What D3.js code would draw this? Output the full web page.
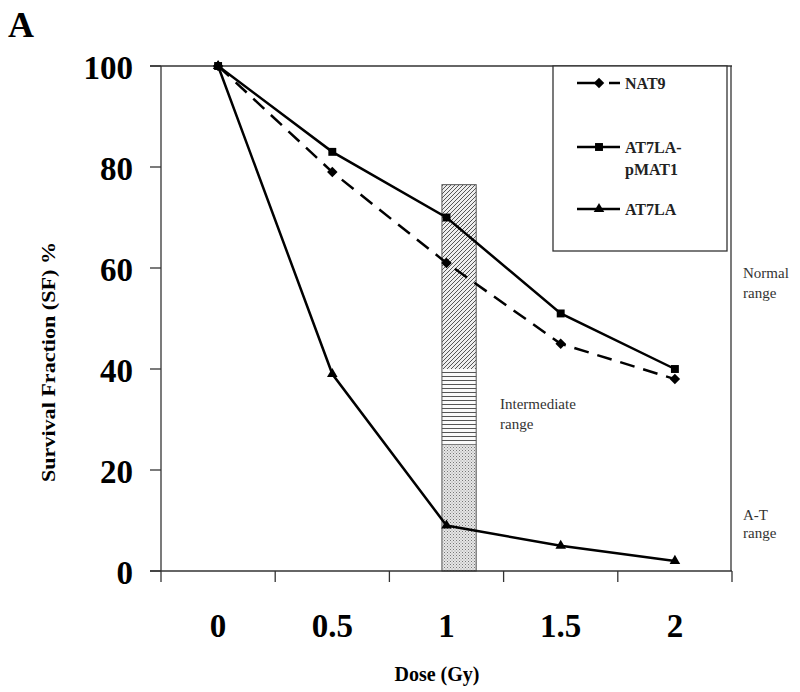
<!DOCTYPE html>
<html><head><meta charset="utf-8">
<script src="https://cdn.jsdelivr.net/npm/d3@7"></script>
<style>body{margin:0;background:#fff}svg{display:block}</style>
</head><body>
<svg id="c" width="800" height="692"></svg>
<script>
const doses = [0, 0.5, 1, 1.5, 2];
const doseLabels = ["0", "0.5", "1", "1.5", "2"];
const nat9 = [100, 79, 61, 45, 38];
const at7laPmat1 = [100, 83, 70, 51, 40];
const at7la = [100, 39, 9, 5, 2];
const yTicks = [0, 20, 40, 60, 80, 100];
const seriesNames = ["NAT9", "AT7LA-pMAT1", "AT7LA"];
// range bar at dose ~1: [lower, upper] percent and pattern
const rangeBarDose = [0.98, 1.13];
const rangeSegments = [[0, 25, "dots"], [25, 40, "hlines"], [40, 76.5, "diag"]];

const svg = d3.select("#c");
const font = "Liberation Serif";
const x = d3.scaleLinear().domain([-0.25, 2.25]).range([161, 732]);
const y = d3.scaleLinear().domain([0, 100]).range([571, 66]);

// patterns
const defs = svg.append("defs");
const pd = defs.append("pattern").attr("id","diag").attr("patternUnits","userSpaceOnUse").attr("width",4).attr("height",4);
pd.append("rect").attr("width",4).attr("height",4).attr("fill","#eeeeee");
pd.append("path").attr("d","M-1,1 l2,-2 M0,4 l4,-4 M3,5 l2,-2").attr("stroke","#555").attr("stroke-width",1);
const ph = defs.append("pattern").attr("id","hlines").attr("patternUnits","userSpaceOnUse").attr("width",4).attr("height",4);
ph.append("rect").attr("width",4).attr("height",4).attr("fill","#fafafa");
ph.append("path").attr("d","M0,0.5 H4").attr("stroke","#555").attr("stroke-width",1);
const pdots = defs.append("pattern").attr("id","dots").attr("patternUnits","userSpaceOnUse").attr("width",3).attr("height",3);
pdots.append("rect").attr("width",3).attr("height",3).attr("fill","#e6e6e6");
pdots.append("rect").attr("x",0).attr("y",0).attr("width",1).attr("height",1).attr("fill","#777");
pdots.append("rect").attr("x",1.5).attr("y",1.5).attr("width",1).attr("height",1).attr("fill","#999");

// "A"
svg.append("text").attr("x",8).attr("y",37).attr("font-family",font).attr("font-weight","bold").attr("font-size",36).text("A");

// range bar
svg.append("g").selectAll("rect").data(rangeSegments).join("rect")
  .attr("x", x(rangeBarDose[0])).attr("width", x(rangeBarDose[1]) - x(rangeBarDose[0]))
  .attr("y", d => y(d[1])).attr("height", d => y(d[0]) - y(d[1]))
  .attr("fill", d => `url(#${d[2]})`);
svg.append("rect").attr("x", x(rangeBarDose[0])).attr("width", x(rangeBarDose[1]) - x(rangeBarDose[0]))
  .attr("y", y(76.5)).attr("height", y(0) - y(76.5)).attr("fill","none").attr("stroke","#555").attr("stroke-width",1);

// axes frame
const axisColor = "#333";
svg.append("line").attr("x1",161).attr("x2",161).attr("y1",y(100)).attr("y2",y(0)).attr("stroke",axisColor).attr("stroke-width",1.3);
svg.append("line").attr("x1",150).attr("x2",732).attr("y1",y(0)).attr("y2",y(0)).attr("stroke",axisColor).attr("stroke-width",1.3);
svg.append("line").attr("x1",150).attr("x2",732).attr("y1",y(100)).attr("y2",y(100)).attr("stroke",axisColor).attr("stroke-width",1.3);
svg.append("line").attr("x1",731).attr("x2",731).attr("y1",y(100)).attr("y2",y(0)).attr("stroke",axisColor).attr("stroke-width",1.3);

// y ticks
const yg = svg.append("g");
yg.selectAll("line").data(yTicks).join("line").attr("x1",150).attr("x2",161).attr("y1",d=>y(d)).attr("y2",d=>y(d)).attr("stroke",axisColor).attr("stroke-width",1.3);
yg.selectAll("text").data(yTicks).join("text").attr("x",133).attr("y",d=>y(d)+13).attr("text-anchor","end")
  .attr("font-family",font).attr("font-weight","bold").attr("font-size",33).text(d=>d);

// x ticks (category boundaries)
const xBounds = [-0.25, 0.25, 0.75, 1.25, 1.75, 2.25];
svg.append("g").selectAll("line").data(xBounds).join("line").attr("x1",d=>x(d)).attr("x2",d=>x(d)).attr("y1",y(0)).attr("y2",y(0)+11).attr("stroke",axisColor).attr("stroke-width",1.3);
svg.append("g").selectAll("text").data(doses).join("text").attr("x",d=>x(d)).attr("y",637).attr("text-anchor","middle")
  .attr("font-family",font).attr("font-weight","bold").attr("font-size",33).text((d,i)=>doseLabels[i]);

// axis titles
svg.append("text").attr("x",437).attr("y",681).attr("text-anchor","middle").attr("font-family",font).attr("font-weight","bold").attr("font-size",20).text("Dose (Gy)");
svg.append("text").attr("transform","translate(55,362) rotate(-90)").attr("text-anchor","middle").attr("font-family",font).attr("font-weight","bold").attr("font-size",19)
  .attr("textLength",240).attr("lengthAdjust","spacingAndGlyphs").text("Survival Fraction (SF) %");

// lines
const line = d3.line().x((d,i)=>x(doses[i])).y(d=>y(d));
const series = [
  {name: seriesNames[0], values: nat9, dash: "15,9", sym: d3.symbolDiamond2, size: 70},
  {name: seriesNames[1], values: at7laPmat1, dash: null, sym: d3.symbolSquare2, size: 80},
  {name: seriesNames[2], values: at7la, dash: null, sym: d3.symbolTriangle2, size: 80}
];
series.forEach(s => {
  svg.append("path").attr("d", line(s.values)).attr("fill","none").attr("stroke","#000").attr("stroke-width",2.5)
    .attr("stroke-dasharray", s.dash);
  svg.append("g").selectAll("path").data(s.values).join("path")
    .attr("transform",(d,i)=>`translate(${x(doses[i])},${y(d)})`)
    .attr("d", d3.symbol().type(s.sym).size(s.size)).attr("fill","#000");
});

// legend
const lg = svg.append("g");
lg.append("rect").attr("x",553).attr("y",66).attr("width",174).attr("height",185).attr("fill","#fff").attr("stroke","#333").attr("stroke-width",1.3);
const legendY = [83, 147, 209];
series.forEach((s,i) => {
  const ly = legendY[i];
  if (s.dash) {
    lg.append("line").attr("x1",577).attr("x2",601).attr("y1",ly).attr("y2",ly).attr("stroke","#000").attr("stroke-width",2.5);
    lg.append("line").attr("x1",609).attr("x2",620).attr("y1",ly).attr("y2",ly).attr("stroke","#000").attr("stroke-width",2.5);
  } else {
    lg.append("line").attr("x1",577).attr("x2",620).attr("y1",ly).attr("y2",ly).attr("stroke","#000").attr("stroke-width",2.5);
  }
  lg.append("path").attr("transform",`translate(599,${ly})`).attr("d", d3.symbol().type(s.sym).size(s.size)).attr("fill","#000");
});
const lt = (t, yy) => lg.append("text").attr("x",625).attr("y",yy).attr("font-family",font).attr("font-weight","bold").attr("font-size",16).attr("fill","#222").text(t);
lt("NAT9", 89); lt("AT7LA-", 153); lt("pMAT1", 175); lt("AT7LA", 215);

// range labels
const ann = (t, xx, yy) => svg.append("text").attr("x",xx).attr("y",yy).attr("font-family",font).attr("font-size",15).attr("fill","#333").text(t);
ann("Normal", 743, 278); ann("range", 743, 298);
ann("Intermediate", 500, 409); ann("range", 500, 429);
ann("A-T", 743, 520); ann("range", 743, 538);
</script>
</body></html>
